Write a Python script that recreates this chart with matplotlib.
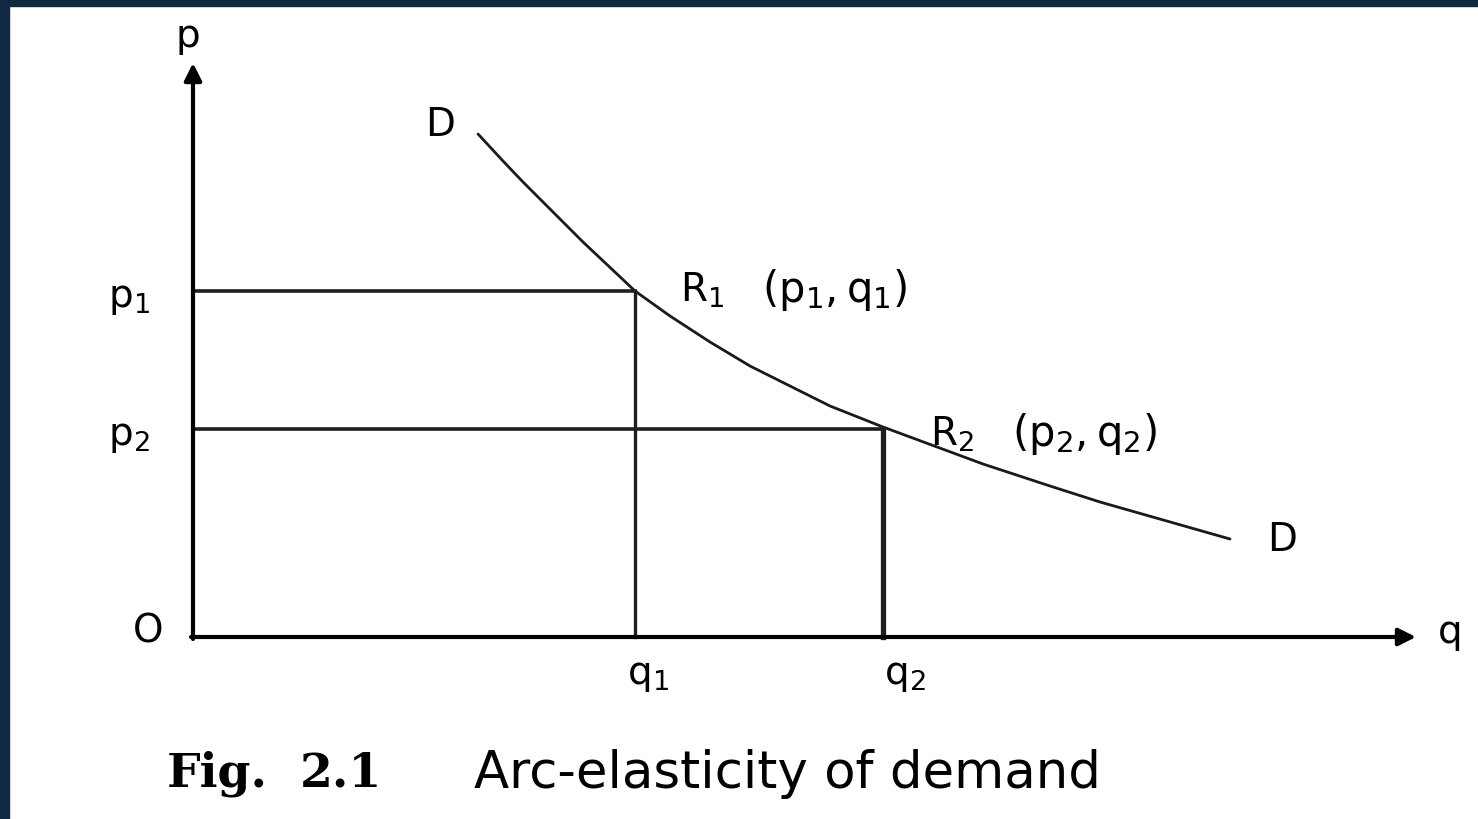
import matplotlib
matplotlib.use("Agg")
import matplotlib.pyplot as plt
from matplotlib.patches import Rectangle

plt.rcParams['font.family'] = ['DejaVu Sans']
plt.rcParams['mathtext.fontset'] = 'dejavusans'

# ---- data ----
q_curve = [2.85, 3.10, 3.30, 3.57, 3.90, 4.24, 4.42, 4.77, 5.17, 5.57, 5.97, 6.37,
           6.90, 7.90, 8.57, 9.07, 10.37]
p_curve = [5.03, 4.76, 4.55, 4.28, 3.95, 3.63, 3.46, 3.21, 2.95, 2.71, 2.51, 2.31,
           2.10, 1.73, 1.51, 1.35, 0.98]
q_points = [4.42, 6.90]
p_points = [3.46, 2.08]
p_labels = [r'$\mathregular{p_1}$', r'$\mathregular{p_2}$']
q_labels = [r'$\mathregular{q_1}$', r'$\mathregular{q_2}$']
r_names = [r'$\mathregular{R_1}$', r'$\mathregular{R_2}$']
r_coords = [r'$\mathregular{(p_1,q_1)}$', r'$\mathregular{(p_2,q_2)}$']
caption_fig = ["Fig.", "2.1"]
caption_text = "Arc-elasticity of demand"

W, H = 1478, 820
X0, Y0 = 193, 638          # pixel position of the origin


def px(x):
    return (x - X0) / 100.0


def py(y):
    return (Y0 - y) / 100.0


fig = plt.figure(figsize=(W / 100, H / 100), dpi=100)
fig.patch.set_facecolor('white')
ax = fig.add_axes([0, 0, 1, 1])
ax.set_xlim(px(0), px(W))
ax.set_ylim(py(H), py(0))
ax.axis('off')

# dark border strips (left and top)
navy = '#0f2942'
fig.patches.append(Rectangle((0, 0), 9 / W, 1, transform=fig.transFigure, color=navy, zorder=10))
fig.patches.append(Rectangle((0, 1 - 7 / H), 1, 7 / H, transform=fig.transFigure, color=navy, zorder=10))

# axes with arrows
ax.annotate('', xy=(0, py(64)), xytext=(0, -0.02),
            arrowprops=dict(arrowstyle='-|>', lw=3.0, color='black', mutation_scale=26,
                            shrinkA=0, shrinkB=0))
ax.annotate('', xy=(px(1416), 0), xytext=(-0.02, 0),
            arrowprops=dict(arrowstyle='-|>', lw=3.0, color='black', mutation_scale=26,
                            shrinkA=0, shrinkB=0))

# demand curve
ax.plot(q_curve, p_curve, color='#1a1a1a', lw=2.0, solid_capstyle='round',
        solid_joinstyle='round')

# guide lines
for i, (q, p) in enumerate(zip(q_points, p_points)):
    ax.plot([0, q], [p, p], color='#202020', lw=2.6)
    ax.plot([q, q], [0, p], color='#202020', lw=2.4 if i == 0 else 3.8)

fs = 28
ax.text(px(188), py(36), 'p', fontsize=fs, ha='center', va='center')
ax.text(px(1450), py(632), 'q', fontsize=fs, ha='center', va='center')
ax.text(px(148), py(632), 'O', fontsize=fs, ha='center', va='center')
ax.text(px(440), py(125), 'D', fontsize=fs, ha='center', va='center')
ax.text(px(1282), py(540), 'D', fontsize=fs, ha='center', va='center')

p_lab_pos = [(108, 298), (108, 436)]
for lab, (x, y) in zip(p_labels, p_lab_pos):
    ax.text(px(x), py(y), lab, fontsize=fs, ha='left', va='center')
q_lab_pos = [(648, 675), (905, 675)]
for lab, (x, y) in zip(q_labels, q_lab_pos):
    ax.text(px(x), py(y), lab, fontsize=fs, ha='center', va='center')

r_name_pos = [(680, 290), (930, 434)]
r_coord_pos = [(762, 290), (1012, 434)]
for lab, (x, y) in zip(r_names, r_name_pos):
    ax.text(px(x), py(y), lab, fontsize=fs, ha='left', va='center')
for lab, (x, y) in zip(r_coords, r_coord_pos):
    ax.text(px(x), py(y), lab, fontsize=fs + 2, ha='left', va='center')

# caption
fig_pos = [167, 300]
for word, x in zip(caption_fig, fig_pos):
    ax.text(px(x), py(774), word, fontsize=34, fontweight='bold',
            family='DejaVu Serif', ha='left', va='center')
ax.text(px(474), py(774), caption_text, fontsize=37, family='DejaVu Sans',
        ha='left', va='center')

fig.savefig('out.png', dpi=100, facecolor='white')
